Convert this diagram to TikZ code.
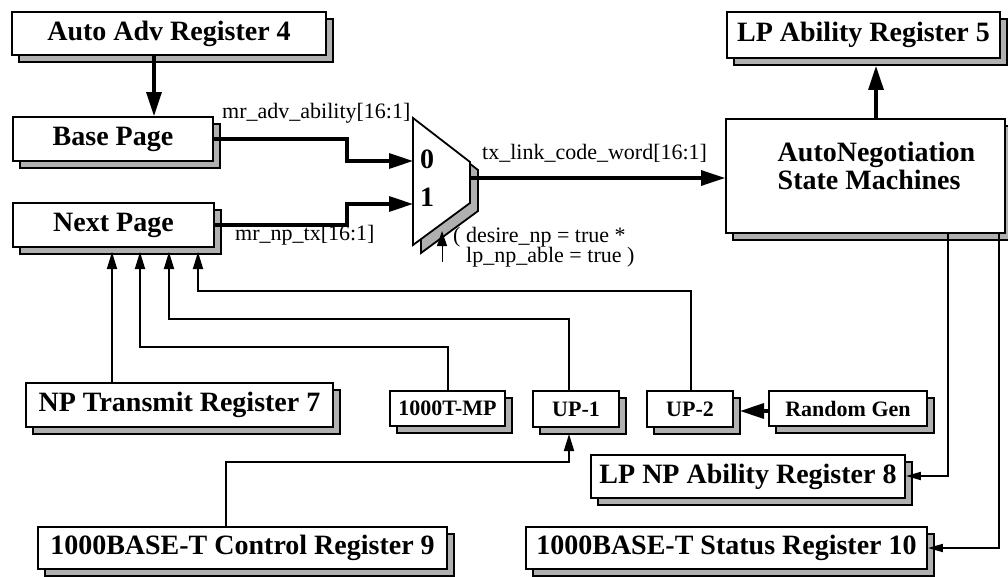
\documentclass[tikz,border=0pt]{standalone}
\usepackage{fontspec}
\setmainfont{Liberation Serif}
\usetikzlibrary{arrows.meta,shadows,calc}
\definecolor{shadowgray}{RGB}{176,176,176}
\begin{document}
\begin{tikzpicture}[x=1pt,y=-1pt,
  box/.style={draw, fill=white, line width=1.8pt, inner sep=0pt, align=center,
    general shadow={shadow xshift=7pt, shadow yshift=-7pt, fill=shadowgray, draw=black, line width=1.8pt}},
  big/.style={font=\fontsize{28}{28}\selectfont\bfseries},
  small/.style={font=\fontsize{22}{22}\selectfont\bfseries},
  lbl/.style={font=\fontsize{22}{24}\selectfont, inner sep=0pt, anchor=west},
  heavy/.style={line width=3.2pt, -{Triangle[length=24pt,width=15pt]}},
  light/.style={line width=1.8pt, -{Triangle[length=17pt,width=10pt]}},
  lightsm/.style={line width=1.8pt, -{Triangle[length=15pt,width=8pt]}},
  hair/.style={line width=1pt, -{Triangle[length=15pt,width=10pt]}},
]
\useasboundingbox (0,0) rectangle (1008,577);

% boxes
\node[box,big,minimum width=314pt,minimum height=43pt] (adv) at (169,33.5) {Auto Adv Register 4};
\node[box,big,minimum width=273pt,minimum height=46pt] (lpab) at (863.5,35) {LP Ability Register 5};
\node[box,big,minimum width=200pt,minimum height=44pt] (base) at (113,139) {Base Page};
\node[box,big,minimum width=201pt,minimum height=44pt] (next) at (113.5,225) {Next Page};
\node[box,minimum width=279pt,minimum height=114pt] (an) at (865.5,176) {};
\node[big,align=left,inner sep=0pt] (antext) at (876.5,166) {AutoNegotiation\\State Machines};
\node[box,big,minimum width=307pt,minimum height=44pt] (npt) at (179.5,405) {NP Transmit Register 7};
\node[box,small,minimum width=115pt,minimum height=35pt] (mp) at (447.5,408.5) {1000T-MP};
\node[box,small,minimum width=86pt,minimum height=36pt] (up1) at (576,409) {UP-1};
\node[box,small,minimum width=86pt,minimum height=36pt] (up2) at (690,409) {UP-2};
\node[box,small,minimum width=158pt,minimum height=35pt] (rnd) at (848,408.5) {Random Gen};
\node[box,big,minimum width=314pt,minimum height=43pt] (lpnp) at (748,476.5) {LP NP Ability Register 8};
\node[box,big,minimum width=409pt,minimum height=42pt] (ctl) at (242.5,548) {1000BASE-T Control Register 9};
\node[box,big,minimum width=401pt,minimum height=42pt] (st) at (726.5,548) {1000BASE-T Status Register 10};

% multiplexer
\draw[fill=shadowgray, line width=1.8pt, shift={(8,8)}] (413,118) -- (470,162) -- (470,203) -- (413,245) -- cycle;
\draw[fill=white, line width=1.8pt] (413,118) -- (470,162) -- (470,203) -- (413,245) -- cycle;
\node[big,inner sep=0pt] (m0) at (427,159) {0};
\node[big,inner sep=0pt] (m1) at (427,197) {1};
\coordinate (in0) at (413,161);
\coordinate (in1) at (413,204);
\coordinate (out) at (470,178);
\coordinate (sel) at (442,231);
\coordinate (selsrc) at (442,262);

% labels
\node[lbl] (la) at (222,113) {mr\_adv\_ability[16:1]};
\node[lbl] (lb) at (235,235) {mr\_np\_tx[16:1]};
\node[lbl] (lc) at (482,153) {tx\_link\_code\_word[16:1]};
\node[lbl] (ld) at (453,237) {( desire\_np = true *};
\node[lbl] (le) at (466,257) {lp\_np\_able = true )};

% connectors
\draw[heavy] ([xshift=-15pt]adv.south) -- ([xshift=-15pt]adv.south |- base.north);
\draw[heavy] (base.east) -- (347,139) -- (347,161) -- (in0);
\draw[heavy] (next.east) -- (347,225) -- (347,204) -- (in1);
\draw[heavy] (out) -- (out -| an.west);
\draw[heavy] (an.north -| 876,0) -- ($(lpab.south -| 876,0)+(0,7)$);
\draw[hair] (selsrc) -- (sel);

\draw[light] (npt.north -| 112,0) -- (112,252);
\draw[light] (mp.north -| 448,0) -- (448,347) -- (140,347) -- (140,252);
\draw[light] (up1.north -| 569,0) -- (569,319) -- (169,319) -- (169,252);
\draw[light] (up2.north -| 691,0) -- (691,291) -- (198,291) -- (198,252);
\draw[light] (ctl.north -| 226,0) -- (226,462) -- (569,462) -- (569,434);
\draw[heavy] (rnd.west |- 0,411) -- (740,411);
\draw[lightsm] (an.south -| 948,0) -- (948,476) -- (lpnp.east |- 0,476);
\draw[lightsm] (an.south -| 999,0) -- (999,548) -- (st.east);
\end{tikzpicture}
\end{document}
